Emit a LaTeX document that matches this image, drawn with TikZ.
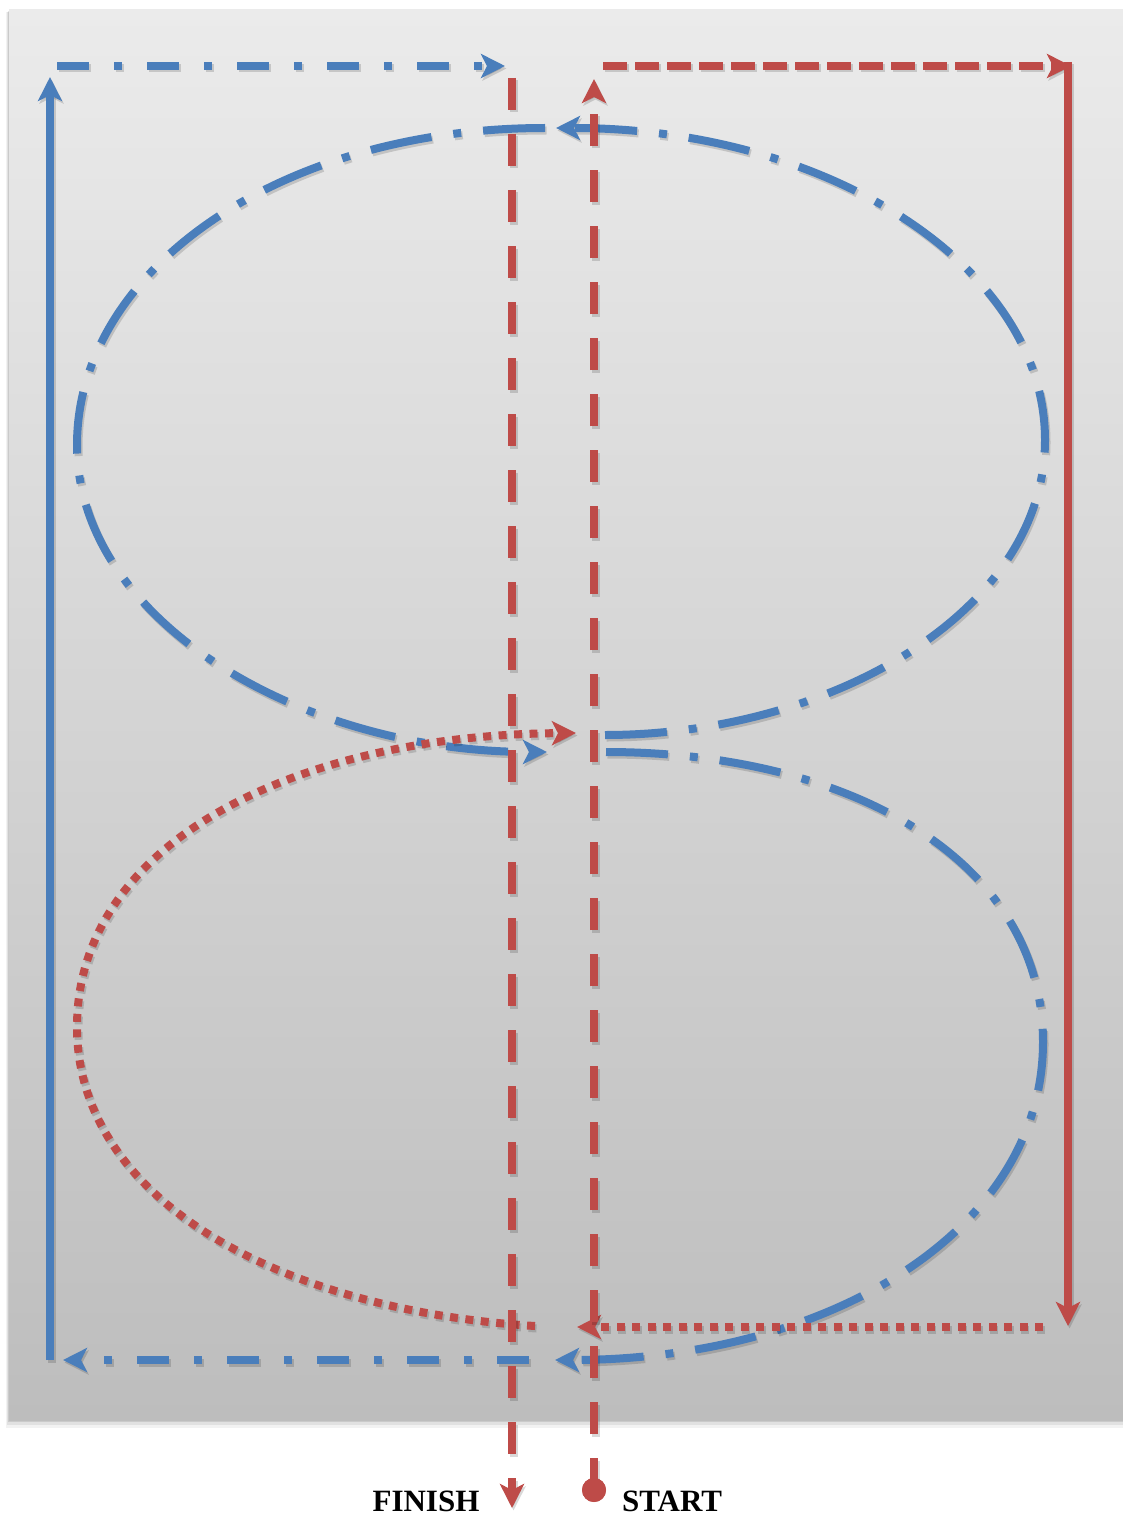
\documentclass[tikz,border=0pt]{standalone}
\usepackage{fontspec}
\setmainfont{Liberation Serif}
\usetikzlibrary{arrows.meta}
\definecolor{pblue}{HTML}{4A7EBB}
\definecolor{pred}{HTML}{BE4B48}
\definecolor{bgtop}{HTML}{EBEBEB}
\definecolor{bgbot}{HTML}{BDBDBD}
\begin{document}
\begin{tikzpicture}[x=1pt,y=-1pt,
  shd/.style={preaction={draw=black, opacity=0.15, line width=8pt, #1, transform canvas={shift={(1.5pt,-2.5pt)}}}},
  tipend/.style={-{Stealth[length=24pt,width=24pt,inset=6pt]}},
  bline/.style={shd={solid}, draw=pblue, line width=8pt},
  rline/.style={shd={solid}, draw=pred, line width=8pt},
  bdd/.style={shd={dash pattern=on 32pt off 25pt on 8pt off 25pt}, draw=pblue, line width=8pt, dash pattern=on 32pt off 25pt on 8pt off 25pt},
  bddc/.style={shd={dash pattern=on 62pt off 22pt on 8pt off 22pt}, draw=pblue, line width=8pt, dash pattern=on 62pt off 22pt on 8pt off 22pt},
  rdash/.style={shd={dash pattern=on 32pt off 24pt}, draw=pred, line width=8pt, dash pattern=on 32pt off 24pt},
  rdashs/.style={shd={dash pattern=on 24pt off 8pt}, draw=pred, line width=8pt, dash pattern=on 24pt off 8pt},
  rdot/.style={shd={dash pattern=on 8pt off 7.5pt}, draw=pred, line width=8pt, dash pattern=on 8pt off 7.5pt},
  lbl/.style={font=\bfseries\fontsize{31}{36}\selectfont, anchor=base, inner sep=0pt}
]
\useasboundingbox (0,0) rectangle (1123,1517);
% background with soft shadow
\fill[black, opacity=0.05] (6,12) rectangle (1123,1428);
\fill[black, opacity=0.07] (7,12) rectangle (1123,1425);
\fill[black, opacity=0.10] (8,11) rectangle (1123,1422);
\shade[top color=bgtop, bottom color=bgbot] (9,10) rectangle (1123,1420);

% coordinates
\coordinate (bBL) at (50,1360);
\coordinate (bTLtip) at (50,77);
\coordinate (bTs) at (57,66);
\coordinate (bTe) at (505,66);
\coordinate (rTs) at (603,66);
\coordinate (rTe) at (1071,66);
\coordinate (rRs) at (1068,62);
\coordinate (rRe) at (1068,1326);
\coordinate (rBs) at (1043,1327);
\coordinate (rBe) at (577,1327);
\coordinate (bBs) at (529,1360);
\coordinate (bBe) at (63,1360);
\coordinate (finS) at (512,78);
\coordinate (finE) at (512,1508);
\coordinate (startE) at (594,79);

% upper blue loop
\coordinate (uA0) at (605,735);
\coordinate (uR) at (1045,440);
\coordinate (uTop) at (556,128);
\coordinate (uB0) at (545,128);
\coordinate (uL) at (77,445);
\coordinate (uBE) at (547,752);
\draw[bddc, tipend] (uA0) .. controls (829,735) and (1045,613) .. (uR)
  .. controls (1045,267) and (829,128) .. (uTop);
\draw[bddc, tipend] (uB0) .. controls (280,128) and (77,270) .. (uL)
  .. controls (77,620) and (300,752) .. (uBE);

% lower blue loop
\coordinate (lA0) at (606,752);
\coordinate (lR) at (1043,1042);
\coordinate (lBE) at (555,1360);
\draw[bddc, tipend] (lA0) .. controls (850,752) and (1043,860) .. (lR)
  .. controls (1043,1230) and (830,1360) .. (lBE);

% blue frame
\draw[bdd, tipend] (bBs) -- (bBe);
\draw[bline, tipend] (bBL) -- (bTLtip);
\draw[bdd, tipend] (bTs) -- (bTe);

% red dotted loop
\coordinate (dS) at (535,1326);
\coordinate (dL) at (77,1027);
\coordinate (dE) at (576,733);
\draw[rdot, tipend] (dS) .. controls (280,1310) and (77,1200) .. (dL)
  .. controls (77,840) and (300,735) .. (dE);

% red frame
\draw[rdashs, tipend] (rTs) -- (rTe);
\draw[rline, tipend] (rRs) -- (rRe);
\draw[rdot, tipend] (rBs) -- (rBe);

% red verticals
\draw[rdash, tipend] (finS) -- (finE);
\node[circle, fill=pred, minimum size=24pt, inner sep=0pt] (start) at (594,1490) {};
\draw[rdash, tipend] (start.center) -- (startE);
\fill[pred] (start) circle (12pt);

% labels
\node[lbl] (finish) at (426,1511) {FINISH};
\node[lbl] (startlbl) at (672,1511) {START};
\end{tikzpicture}
\end{document}
